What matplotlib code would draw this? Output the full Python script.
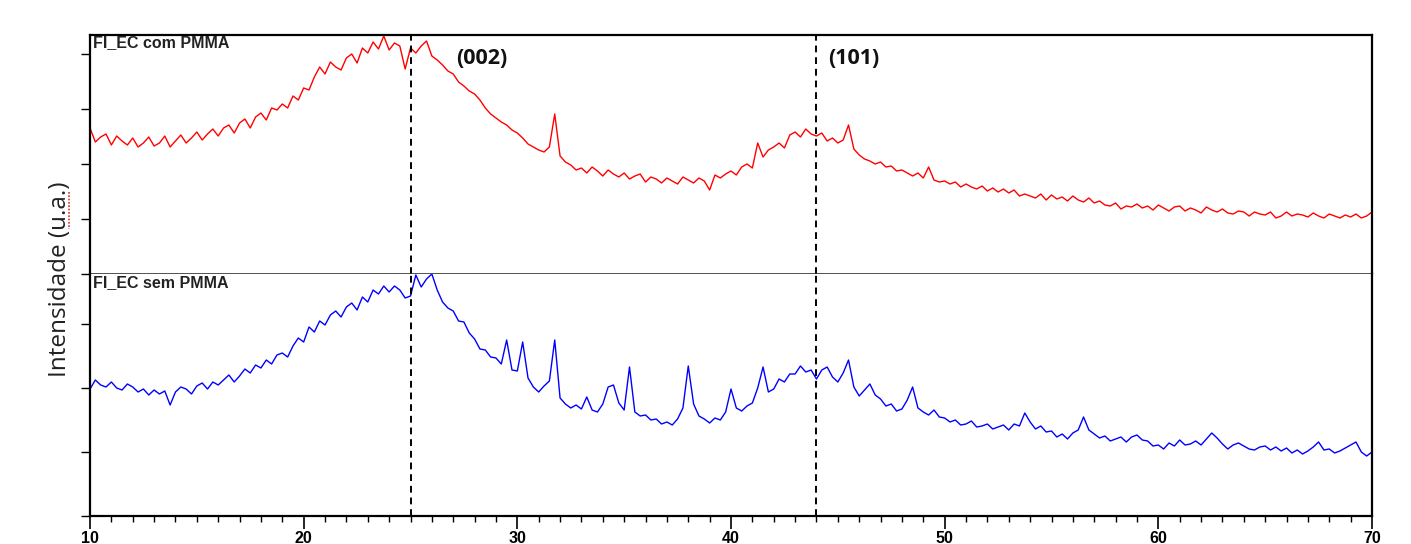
import numpy as np
import matplotlib.pyplot as plt
from matplotlib.ticker import MultipleLocator
from matplotlib.lines import Line2D

# 2-theta grid (degrees), one reading every 0.25
two_theta = np.arange(10, 70.001, 0.25)

# FI_EC com PMMA (u.a.)
com_pmma = [
    146, 132, 137, 140, 129, 138, 133, 129, 136, 127, 131, 137,   # 10-12
    128, 131, 138, 127, 133, 139, 131, 136, 142, 134, 140, 145,   # 13-15
    138, 146, 149, 141, 151, 155, 146, 157, 161, 154, 166, 164,   # 16-18
    170, 166, 178, 174, 186, 184, 197, 207, 200, 212, 207, 204,   # 19-21
    216, 220, 211, 226, 221, 232, 225, 238, 224, 231, 228, 205,   # 22-24
    226, 221, 228, 233, 218, 214, 209, 203, 200, 192, 188, 183,   # 25-27
    180, 174, 166, 160, 156, 152, 149, 144, 141, 136, 130, 127,   # 28-30
    124, 122, 127, 160, 118, 112, 109, 104, 106, 101, 107, 103,   # 31-33
    98, 104, 100, 97, 101, 95, 98, 100, 92, 97, 95, 91,           # 34-36
    96, 93, 90, 97, 94, 91, 96, 93, 84, 99, 96, 100,              # 37-39
    103, 99, 107, 110, 106, 131, 117, 124, 127, 131, 126, 139,    # 40-42
    142, 137, 145, 140, 138, 141, 133, 136, 131, 134, 149, 125,   # 43-45
    119, 115, 113, 110, 112, 107, 108, 103, 104, 101, 98, 101,    # 46-48
    96, 107, 94, 92, 93, 90, 92, 87, 90, 87, 85, 88,              # 49-51
    83, 86, 82, 85, 81, 84, 78, 80, 78, 76, 80, 74,               # 52-54
    79, 75, 77, 73, 78, 74, 72, 76, 71, 73, 69, 68,               # 55-57
    71, 65, 68, 67, 70, 66, 68, 64, 69, 66, 63, 67,               # 58-60
    68, 63, 66, 64, 61, 67, 64, 62, 65, 61, 60, 63,               # 61-63
    62, 58, 62, 60, 59, 62, 56, 58, 62, 58, 60, 59,               # 64-66
    57, 61, 58, 56, 60, 58, 56, 59, 57, 60, 56, 58,               # 67-69
    62,                                                           # 70
]

# FI_EC sem PMMA (u.a.)
sem_pmma = [
    127, 136, 131, 129, 134, 128, 126, 132, 129, 124, 127, 121,   # 10-12
    126, 122, 125, 111, 124, 129, 127, 122, 130, 133, 127, 134,   # 13-15
    131, 136, 141, 134, 140, 147, 143, 151, 148, 156, 152, 161,   # 16-18
    163, 159, 170, 178, 174, 189, 184, 195, 191, 201, 205, 199,   # 19-21
    209, 213, 206, 219, 214, 226, 222, 230, 224, 230, 226, 218,   # 22-24
    220, 241, 229, 237, 242, 226, 214, 208, 205, 195, 194, 183,   # 25-27
    177, 167, 166, 159, 158, 152, 176, 146, 145, 174, 138, 129,   # 28-30
    124, 130, 135, 176, 118, 112, 108, 111, 107, 119, 106, 104,   # 31-33
    112, 129, 131, 113, 106, 149, 104, 100, 101, 96, 97, 92,      # 34-36
    94, 91, 97, 108, 150, 112, 100, 97, 93, 98, 96, 104,          # 37-39
    127, 108, 105, 110, 113, 128, 149, 124, 127, 137, 134, 142,   # 40-42
    142, 150, 144, 146, 137, 146, 149, 139, 134, 143, 156, 129,   # 43-45
    120, 126, 132, 121, 117, 110, 112, 105, 107, 116, 129, 108,   # 46-48
    104, 101, 106, 99, 98, 94, 96, 91, 92, 95, 89, 90,            # 49-51
    92, 87, 89, 91, 86, 92, 90, 103, 94, 87, 90, 84,              # 52-54
    85, 79, 82, 77, 83, 86, 99, 86, 82, 78, 80, 75,               # 55-57
    77, 79, 74, 79, 81, 76, 75, 70, 71, 67, 73, 70,               # 58-60
    76, 71, 72, 75, 71, 77, 83, 78, 72, 67, 71, 73,               # 61-63
    70, 67, 66, 69, 70, 66, 69, 65, 68, 63, 66, 62,               # 64-66
    65, 69, 74, 66, 67, 63, 65, 68, 71, 74, 64, 60,               # 67-69
    64,                                                           # 70
]

peaks = [25, 44]
peak_labels = ['(002)', '(101)']

fig = plt.figure(figsize=(14.11, 5.44), dpi=100)
ax1 = fig.add_axes([90 / 1411, 270 / 544, 1282 / 1411, 239 / 544])
ax2 = fig.add_axes([90 / 1411, 28 / 544, 1282 / 1411, 242 / 544], sharex=ax1)

ax1.plot(two_theta, com_pmma, color='#ff0000', lw=1.0)
ax2.plot(two_theta, sem_pmma, color='#0000ff', lw=1.0)

ax1.set_xlim(10, 70)
ax1.set_ylim(0, 239)
ax2.set_ylim(0, 242)

for ax in (ax1, ax2):
    for p in peaks:
        ax.axvline(p, color='black', lw=1.4, ls=(0, (3.5, 2.5)))
    for s in ax.spines.values():
        s.set_linewidth(1.6)
    ax.tick_params(axis='y', direction='out', length=6.5, width=1, labelleft=False)

ax1.spines['bottom'].set_color('#333333')
ax1.spines['bottom'].set_linewidth(1.2)
ax2.spines['top'].set_visible(False)

ax1.set_yticks([0, 55, 110, 165, 220])
ax2.set_yticks([0, 64, 128, 192])
ax1.tick_params(axis='x', bottom=False, labelbottom=False)

ax2.xaxis.set_major_locator(MultipleLocator(10))
ax2.xaxis.set_minor_locator(MultipleLocator(1))
ax2.tick_params(axis='x', which='major', direction='out', length=9, width=1.2, pad=2)
ax2.tick_params(axis='x', which='minor', direction='out', length=4.5, width=1)
for lab in ax2.get_xticklabels():
    lab.set_fontfamily('Liberation Sans')
    lab.set_fontweight('bold')
    lab.set_fontsize(11.5)

ax1.annotate('FI_EC com PMMA', xy=(0, 1), xycoords='axes fraction', xytext=(3, 0),
             textcoords='offset pixels', ha='left', va='top',
             family='Liberation Sans', weight='bold', fontsize=11.5, color='#222222')
ax2.annotate('FI_EC sem PMMA', xy=(0, 1), xycoords='axes fraction', xytext=(3, -1),
             textcoords='offset pixels', ha='left', va='top',
             family='Liberation Sans', weight='bold', fontsize=11.5, color='#222222')

label_x = [27.15, 44.55]
for lx, lab in zip(label_x, peak_labels):
    ax1.annotate(lab, xy=(lx, 1), xycoords=('data', 'axes fraction'), xytext=(0, -23),
                 textcoords='offset pixels', ha='left', va='center',
                 family='Open Sans', weight='bold', fontsize=15.5, color='#111111')

fig.text(60 / 1411, 1 - 279 / 544, 'Intensidade (u.a.)', rotation=90, ha='center',
         va='center', family='Open Sans', fontsize=17.5, color='#222222')
# spell-check squiggle under "u.a."
fig.add_artist(Line2D([69 / 1411, 69 / 1411], [1 - 192 / 544, 1 - 229 / 544],
                      color='#e03030', lw=1.2, ls=(0, (1, 1))))

fig.savefig('out.png', dpi=100)
